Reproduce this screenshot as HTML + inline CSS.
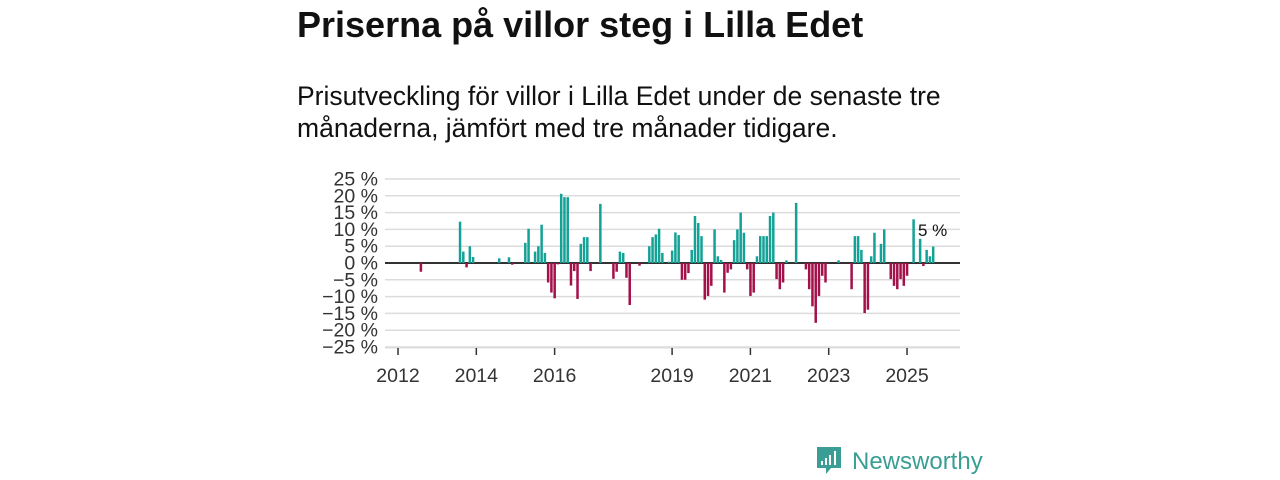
<!DOCTYPE html>
<html><head><meta charset="utf-8"><style>
body{margin:0;width:1280px;height:480px;background:#fff;overflow:hidden;font-family:"Liberation Sans",sans-serif;color:#111}
#title{position:absolute;left:297px;top:4px;font-size:36px;font-weight:bold;margin:0;white-space:nowrap}
#sub{position:absolute;left:297px;top:80px;font-size:26.5px;line-height:32px;width:700px;margin:0}
svg{position:absolute;left:0;top:0}
</style></head><body>
<h1 id="title">Priserna på villor steg i Lilla Edet</h1>
<p id="sub">Prisutveckling för villor i Lilla Edet under de senaste tre<br>månaderna, jämfört med tre månader tidigare.</p>
<svg id="chart" width="1280" height="480"></svg>
<script>
const months=["2012-08","2013-08","2013-09","2013-10","2013-11","2013-12","2014-08","2014-11","2014-12","2015-04","2015-05","2015-07","2015-08","2015-09","2015-10","2015-11","2015-12","2016-01","2016-02","2016-03","2016-04","2016-05","2016-06","2016-07","2016-08","2016-09","2016-10","2016-11","2016-12","2017-03","2017-07","2017-08","2017-09","2017-10","2017-11","2017-12","2018-03","2018-06","2018-07","2018-08","2018-09","2018-10","2018-12","2019-01","2019-02","2019-03","2019-04","2019-05","2019-06","2019-07","2019-08","2019-09","2019-10","2019-11","2019-12","2020-01","2020-02","2020-03","2020-04","2020-05","2020-06","2020-07","2020-08","2020-09","2020-10","2020-11","2020-12","2021-01","2021-02","2021-03","2021-04","2021-05","2021-06","2021-07","2021-08","2021-09","2021-10","2021-11","2021-12","2022-03","2022-06","2022-07","2022-08","2022-09","2022-10","2022-11","2022-12","2023-04","2023-08","2023-09","2023-10","2023-11","2023-12","2024-01","2024-02","2024-03","2024-05","2024-06","2024-08","2024-09","2024-10","2024-11","2024-12","2025-01","2025-03","2025-05","2025-06","2025-07","2025-08","2025-09"];
const values=[-2.6,12.3,3.4,-1.3,5,1.8,1.4,1.7,-0.5,6,10.2,3.4,5,11.4,3,-5.8,-8.8,-10.5,-0.4,20.6,19.6,19.6,-6.7,-2.4,-10.7,5.7,7.7,7.7,-2.4,17.6,-4.7,-2.6,3.4,3,-4.4,-12.5,-0.8,5,7.7,8.5,10.2,3,0.4,3.7,9.1,8.3,-5,-5,-3,3.9,14,11.9,8,-10.9,-9.8,-6.8,10,2,0.9,-8.8,-2.9,-1.9,6.8,10,15,9,-1.9,-9.8,-8.8,2,8,8,8,14,15,-4.8,-7.8,-5.8,0.8,17.9,-1.9,-7.8,-12.9,-17.8,-9.8,-3.8,-5.8,0.8,-7.8,8,8,3.9,-14.9,-13.9,2,9,5.7,10,-4.8,-6.8,-7.8,-4.8,-6.8,-3.8,13,7.2,-0.9,3.9,2,4.9];
const yTicks=[25,20,15,10,5,0,-5,-10,-15,-20,-25];
const xTickYears=[2012,2014,2016,2019,2021,2023,2025];
const lastLabel="5 %";
const NS="http://www.w3.org/2000/svg";
const svg=document.getElementById('chart');
function y(v){return 263-v*3.36;}
function x(m){const p=m.split('-');return 398+((+p[0]-2012)*12+(+p[1]-1))*3.263;}
function xYear(yr){return 398+(yr-2012)*39.156;}
function mk(t,a){const e=document.createElementNS(NS,t);for(const k in a)e.setAttribute(k,a[k]);svg.appendChild(e);return e;}
yTicks.forEach(v=>{
  const g=mk('line',{x1:385,x2:960,y1:y(v),y2:y(v),stroke:v===0?'#333':'#dcdcdc','stroke-width':v===0?2:1.5});
  
  
  const t=mk('text',{x:378,y:y(v)+6.5,'text-anchor':'end','font-size':19.5,fill:'#333','font-family':'Liberation Sans, sans-serif'});
  t.textContent=(v<0?'\u2212'+(-v):v)+' %';
  
  
});
months.forEach((m,i)=>{
  const v=values[i];
  const r=mk('rect',{x:x(m)-1.2,width:2.5,y:Math.min(y(v),y(0)),height:Math.abs(y(v)-y(0)),fill:v>=0?'#14a196':'#a3104a'});
  
  
});
mk('line',{x1:385,x2:960,y1:348,y2:348,stroke:'#ddd','stroke-width':1});
xTickYears.forEach(yr=>{
  const tk=mk('line',{x1:xYear(yr),x2:xYear(yr),y1:348,y2:355,stroke:'#333','stroke-width':1.5});
  
  
  const t=mk('text',{x:xYear(yr),y:382,'text-anchor':'middle','font-size':19.5,fill:'#333','font-family':'Liberation Sans, sans-serif'});
  t.textContent=yr;
  
  
});
const lab=mk('text',{x:918,y:236,'font-size':17,fill:'#111','font-family':'Liberation Sans, sans-serif'});
lab.textContent=lastLabel;


const lg=mk('g',{});


const p=document.createElementNS(NS,'path');
p.setAttribute('d','M817 447h24v21h-10l-5 6v-6h-9z');p.setAttribute('fill','#3a9e94');lg.appendChild(p);
[[821,461,2,4],[825,458,2,7],[829,455,2,10],[834,451,2,14]].forEach(b=>{const r=document.createElementNS(NS,'rect');r.setAttribute('x',b[0]);r.setAttribute('y',b[1]);r.setAttribute('width',b[2]);r.setAttribute('height',b[3]);r.setAttribute('fill','#fff');lg.appendChild(r);});
const nt=document.createElementNS(NS,'text');
nt.setAttribute('x',852);nt.setAttribute('y',469);nt.setAttribute('font-size',24);nt.setAttribute('fill','#3a9e94');nt.setAttribute('font-family','Liberation Sans, sans-serif');
nt.textContent='Newsworthy';lg.appendChild(nt);
</script>
</body></html>
